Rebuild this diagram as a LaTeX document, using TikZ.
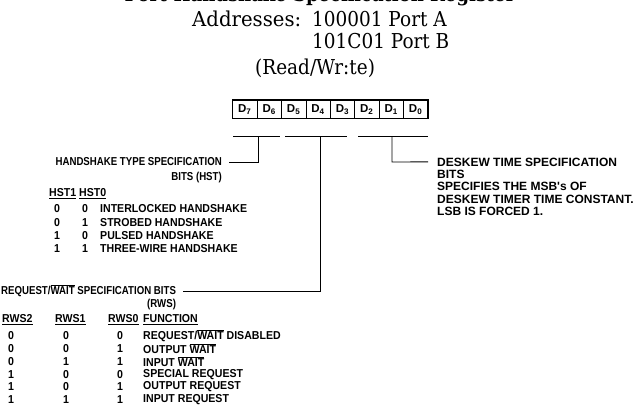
\documentclass[tikz,border=0pt]{standalone}
\usepackage{fontspec}
\setmainfont{DejaVu Serif}[FakeStretch=0.9]
\newfontfamily\addrfont{DejaVu Serif}[FakeStretch=0.96]
\newfontfamily\lab{Liberation Sans}[FakeStretch=0.92]
\newfontfamily\labn{Liberation Sans}[FakeStretch=0.84]
\newfontfamily\labw{Liberation Sans}
\newcommand\ovl[1]{$\overline{\mbox{#1}}$}
\newcommand\udl[1]{$\underline{\mbox{#1}}$}
\begin{document}
\begin{tikzpicture}[x=1pt,y=-1pt,
  lbl/.style={font=\lab\bfseries\fontsize{11.5}{13}\selectfont, inner sep=0pt},
  hdr/.style={font=\labn\bfseries\fontsize{11.5}{13}\selectfont, inner sep=0pt},
  rgt/.style={font=\labw\bfseries\fontsize{12}{13}\selectfont, inner sep=0pt},
  ser/.style={font=\fontsize{20.5}{24}\selectfont, inner sep=0pt},
  cell/.style={draw, line width=0.6pt, minimum width=24.4pt, minimum height=18pt, inner sep=0pt,
    font=\labw\bfseries\fontsize{11.5}{12}\selectfont},
  wire/.style={line width=0.9pt}]
\useasboundingbox (0,0) rectangle (639,409);
% title (cut off at top edge)
\begin{scope}
\clip (0,0) rectangle (639,409);
\node[ser, font=\bfseries\fontsize{20}{24}\selectfont, anchor=base] (title) at (320,1.8) {Port Handshake Specification Register};
\end{scope}
\node[ser, anchor=base west] (addr) at (192,27) {\makebox[120pt][l]{\addrfont Addresses:}100001 Port A};
\node[ser, anchor=base west] (portb) at (312,48.5) {101C01 Port B};
\node[ser, anchor=base west] (rw) at (255,75) {(Read/Wr:te)};
% register
\foreach \i/\n in {0/7,1/6,2/5,3/4,4/3,5/2,6/1,7/0}{
  \node[cell, anchor=north west] (d\n) at ({232.3+24.4*\i},100) {D\textsubscript{\n}};
}
\draw[line width=1.4pt] (d7.north west) rectangle (d0.south east);
% bracket coordinates
\coordinate (ha) at (233,136.5); \coordinate (hb) at (280,136.5);
\coordinate (hs) at (258,136.5); \coordinate (hc) at (258,162);
\coordinate (ma) at (285,136.5); \coordinate (mb) at (347,136.5);
\coordinate (ms) at (320,136.5); \coordinate (mc) at (320,291);
\coordinate (ra) at (358,136.5); \coordinate (rb) at (428,136.5);
\coordinate (rs) at (392,136.5); \coordinate (rc) at (392,162);
% labels
\node[hdr, anchor=east] (hst) at (222,162) {HANDSHAKE TYPE SPECIFICATION};
\node[hdr, anchor=east] (hstb) at (222,177.5) {BITS (HST)};
\node[lbl, anchor=west] (hsth) at (49,194) {\udl{HST1} \udl{HST0}};
\foreach \a/\b/\t [count=\k] in {0/0/INTERLOCKED HANDSHAKE,0/1/STROBED HANDSHAKE,1/0/PULSED HANDSHAKE,1/1/THREE-WIRE HANDSHAKE}{
  \node[lbl] (ha\k) at (57,{195.8+13.2*\k}) {\a};
  \node[lbl] (hb\k) at (85,{195.8+13.2*\k}) {\b};
  \node[lbl, anchor=west] (ht\k) at (100,{195.8+13.2*\k}) {\t};
}
\node[hdr, anchor=west] (rws) at (1,291) {REQUEST/\ovl{WAIT} SPECIFICATION BITS};
\node[hdr, anchor=east] (rwsb) at (rws.east |- 0,305) {(RWS)};
\node[lbl, anchor=west] (r2) at (2,320) {\udl{RWS2}};
\node[lbl, anchor=west] (r1) at (55,320) {\udl{RWS1}};
\node[lbl, anchor=west] (r0) at (108,320) {\udl{RWS0}};
\node[lbl, anchor=west] (fn) at (143,320) {\udl{FUNCTION}};
\foreach \a/\b/\c/\t [count=\k] in {0/0/0/{REQUEST/\ovl{WAIT} DISABLED},0/0/1/{OUTPUT \ovl{WAIT}},0/1/1/{INPUT \ovl{WAIT}},1/0/0/SPECIAL REQUEST,1/0/1/OUTPUT REQUEST,1/1/1/INPUT REQUEST}{
  \node[lbl] (x\k) at (11,{323+12.8*\k}) {\a};
  \node[lbl] (y\k) at (66,{323+12.8*\k}) {\b};
  \node[lbl] (z\k) at (120,{323+12.8*\k}) {\c};
  \node[lbl, anchor=west] (f\k) at (143,{323+12.8*\k}) {\t};
}
\foreach \t [count=\k] in {DESKEW TIME SPECIFICATION,BITS,SPECIFIES THE MSB's OF,DESKEW TIMER TIME CONSTANT.,LSB IS FORCED 1.}{
  \node[rgt, anchor=west] (dk\k) at (437,{149.5+12.4*\k}) {\t};
}
% brackets
\draw[wire] (ha) -- (hb);
\draw[wire] (hs) -- (hc) -- ([xshift=7pt]hst.east);
\draw[wire] (ma) -- (mb);
\draw[wire] (ms) -- (mc) -- ([xshift=7pt]rws.east |- mc);
\draw[wire] (ra) -- (rb);
\draw[wire] (rs) -- (rc) -- ([xshift=-9pt]dk1.west);
\end{tikzpicture}
\end{document}
